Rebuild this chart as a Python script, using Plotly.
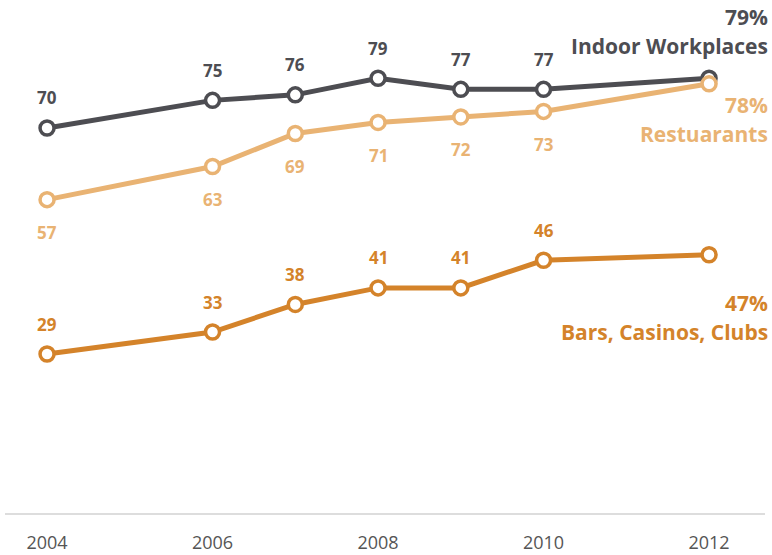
import plotly.graph_objects as go

years = [2004, 2006, 2007, 2008, 2009, 2010, 2012]
indoor = [70, 75, 76, 79, 77, 77, 79]
restaurants = [57, 63, 69, 71, 72, 73, 78]
bars = [29, 33, 38, 41, 41, 46, 47]
tick_years = [2004, 2006, 2008, 2010, 2012]

series = [
    # name, values, colour, label offset (px), end-label offsets (pct, name)
    ("Indoor Workplaces", indoor, "#4d4d52", 30, (61, 32)),
    ("Restuarants", restaurants, "#e9b373", -33, (-21, -50)),
    ("Bars, Casinos, Clubs", bars, "#d4832a", 30, (-48, -77)),
]

FONT = "Open Sans"
fig = go.Figure()
annotations = []

for name, vals, color, off, (pct_off, name_off) in series:
    fig.add_trace(go.Scatter(
        x=years, y=vals, mode="lines+markers", name=name,
        line=dict(color=color, width=5),
        marker=dict(size=14, color="white", line=dict(color=color, width=3.5)),
        hoverinfo="x+y",
    ))
    for x, v in zip(years[:-1], vals[:-1]):
        annotations.append(dict(
            x=x, y=v, text=str(v), showarrow=False, yshift=off,
            font=dict(family=FONT, size=17, color=color, weight="bold"),
        ))
    annotations.append(dict(
        xref="paper", x=1, xshift=5, xanchor="right", y=vals[-1], text=f"{vals[-1]}%",
        showarrow=False, yshift=pct_off,
        font=dict(family=FONT, size=21, color=color, weight="bold"),
    ))
    annotations.append(dict(
        xref="paper", x=1, xshift=5, xanchor="right", y=vals[-1], text=name,
        showarrow=False, yshift=name_off,
        font=dict(family=FONT, size=21, color=color, weight="bold"),
    ))

fig.update_layout(
    width=772, height=555,
    margin=dict(l=5, r=7, t=0, b=41),
    paper_bgcolor="white", plot_bgcolor="white",
    showlegend=False,
    annotations=annotations,
    xaxis=dict(
        range=[2003.492, 2012.676], tickvals=tick_years,
        ticktext=[str(t) for t in tick_years],
        showgrid=False, zeroline=False, showline=False,
        tickfont=dict(family=FONT, size=18, color="#555555"),
        ticks="", ticklabelstandoff=16,
    ),
    yaxis=dict(
        range=[0, 93.2], showgrid=False, showticklabels=False,
        zeroline=True, zerolinecolor="#dddddd", zerolinewidth=2,
    ),
)

fig.write_html("out.html")
